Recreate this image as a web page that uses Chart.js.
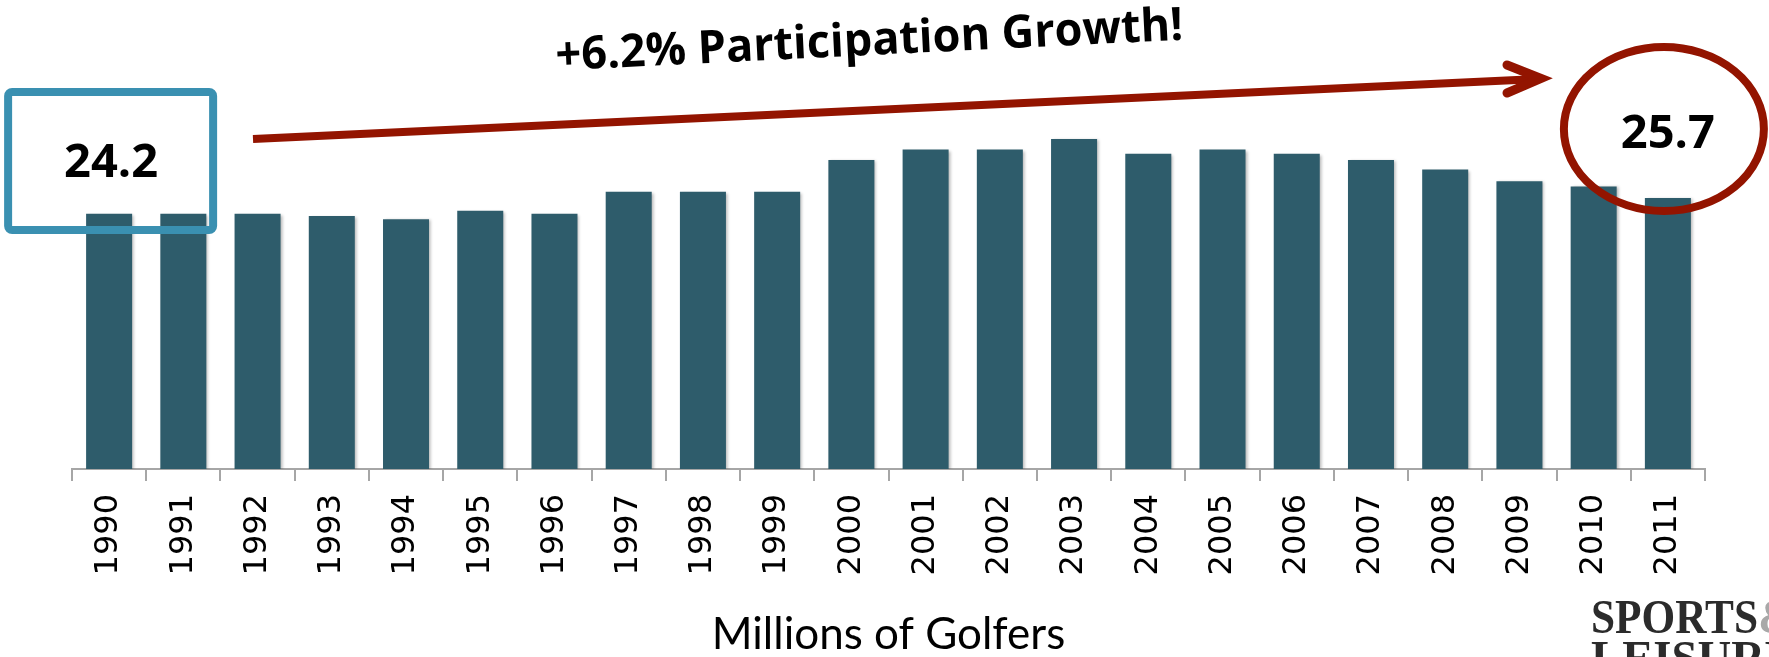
<!DOCTYPE html>
<html>
<head>
<meta charset="utf-8">
<title>Golf participation</title>
<script src="https://cdn.jsdelivr.net/npm/chart.js@4.4.1/dist/chart.umd.min.js"></script>
<style>
    html, body { margin: 0; padding: 0; background: #ffffff; }
    canvas { display: block; }
</style>
</head>
<body>
<canvas id="golfChart" width="1769" height="657"></canvas>
<script>
// Golfers per year, in millions
const years = [
    "1990", "1991", "1992", "1993", "1994", "1995", "1996", "1997", "1998", "1999", "2000",
    "2001", "2002", "2003", "2004", "2005", "2006", "2007", "2008", "2009", "2010", "2011"
];
const golfers = [
    24.2, 24.2, 24.2, 24.0, 23.7, 24.5, 24.2, 26.3, 26.3, 26.3, 29.3,
    30.3, 30.3, 31.3, 29.9, 30.3, 29.9, 29.3, 28.4, 27.3, 26.8, 25.7
];
const startLabel = "24.2";
const endLabel = "25.7";
const growthLabel = "+6.2% Participation Growth!";
const axisTitle = "Millions of Golfers";

const BAR_COLOR = "#2e5c6b";
const AXIS_COLOR = "#a6a6a6";
const BOX_COLOR = "#3a90b1";
const RED = "#931400";

// soft drop shadow under the bars
const barShadow = {
    id: "barShadow",
    beforeDatasetsDraw(chart) {
        const ctx = chart.ctx;
        ctx.save();
        ctx.shadowColor = "rgba(0, 0, 0, 0.28)";
        ctx.shadowBlur = 3;
        ctx.shadowOffsetX = 2;
        ctx.shadowOffsetY = 1;
    },
    afterDatasetsDraw(chart) {
        chart.ctx.restore();
    }
};

// callouts: start box, end circle, growth arrow, logo
const callouts = {
    id: "callouts",
    afterDraw(chart) {
        const ctx = chart.ctx;
        const xs = chart.scales.x;
        const first = xs.getPixelForValue(0);
        const last = xs.getPixelForValue(years.length - 1);

        ctx.save();

        // box around the first year
        ctx.strokeStyle = BOX_COLOR;
        ctx.lineWidth = 8;
        ctx.lineJoin = "round";
        ctx.beginPath();
        ctx.roundRect(first - 101, 92, 205, 138, 4);
        ctx.stroke();

        ctx.fillStyle = "#000";
        ctx.font = "700 47px 'Open Sans'";
        ctx.textAlign = "center";
        ctx.textBaseline = "alphabetic";
        ctx.fillText(startLabel, first + 2, 177);

        // ellipse around the last year
        ctx.strokeStyle = RED;
        ctx.lineWidth = 8;
        ctx.beginPath();
        ctx.ellipse(last - 4, 129, 100, 82, 0, 0, Math.PI * 2);
        ctx.stroke();

        ctx.fillText(endLabel, last, 148);

        // growth arrow
        const ax0 = 253, ay0 = 139, ax1 = 1538, ay1 = 79;
        ctx.lineWidth = 8;
        ctx.lineCap = "butt";
        ctx.beginPath();
        ctx.moveTo(ax0, ay0);
        ctx.lineTo(ax1, ay1);
        ctx.stroke();

        ctx.lineWidth = 9;
        ctx.lineCap = "round";
        ctx.lineJoin = "miter";
        ctx.beginPath();
        ctx.moveTo(1507, 65);
        ctx.lineTo(1541, 78.5);
        ctx.lineTo(1507, 93);
        ctx.stroke();

        // growth headline, tilted along the arrow
        ctx.save();
        ctx.translate(870, 55);
        ctx.rotate(-2.8 * Math.PI / 180);
        ctx.font = "700 46px 'Open Sans'";
        ctx.fillStyle = "#000";
        ctx.textAlign = "center";
        ctx.fillText(growthLabel, 0, 0, 628);
        ctx.restore();

        // logo in the corner
        ctx.textAlign = "left";
        ctx.font = "700 49px 'Liberation Serif'";
        ctx.fillStyle = "#2b2b2b";
        ctx.fillText("SPORTS", 1591, 633, 167);
        ctx.fillStyle = "#a8a8a8";
        ctx.fillText("&", 1758, 633);
        ctx.fillStyle = "#2b2b2b";
        ctx.fillText("LEISURE", 1591, 674, 205);

        ctx.restore();
    }
};

new Chart(document.getElementById("golfChart"), {
    type: "bar",
    data: {
        labels: years,
        datasets: [{
            data: golfers,
            backgroundColor: BAR_COLOR,
            borderWidth: 0,
            barPercentage: 0.62,
            categoryPercentage: 1.0,
        }]
    },
    options: {
        responsive: false,
        animation: false,
        devicePixelRatio: 1,
        layout: { padding: { left: 72, right: 64, top: 100, bottom: 0 } },
        plugins: {
            legend: { display: false },
            tooltip: { enabled: false },
        },
        scales: {
            x: {
                grid: {
                    display: true,
                    drawOnChartArea: false,
                    drawTicks: true,
                    tickLength: 12,
                    color: AXIS_COLOR,
                    lineWidth: 2,
                    offset: true,
                },
                border: { display: true, color: AXIS_COLOR, width: 2 },
                ticks: {
                    autoSkip: false,
                    minRotation: 90,
                    maxRotation: 90,
                    padding: 13,
                    color: "#000",
                    font: { family: "'DejaVu Sans'", size: 32 },
                },
                title: {
                    display: true,
                    text: axisTitle,
                    color: "#000",
                    font: { family: "Lato", size: 44, lineHeight: 1.0 },
                    padding: { top: 0, bottom: 0 },
                },
                afterFit: (scale) => { scale.height = 188; },
            },
            y: {
                display: false,
                min: 0,
                max: 35,
            }
        }
    },
    plugins: [barShadow, callouts]
});
</script>
</body>
</html>
